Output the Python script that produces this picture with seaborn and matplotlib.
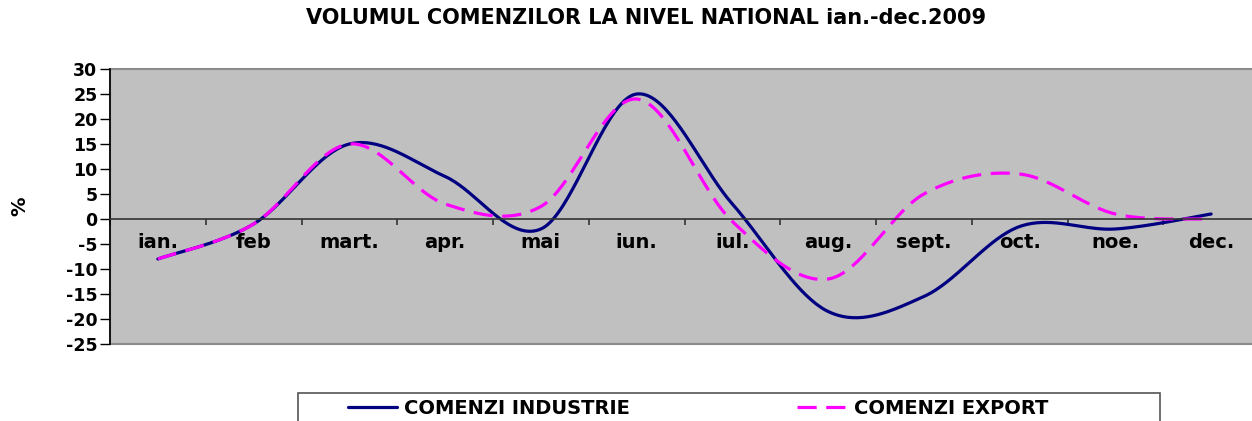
import numpy as np
import pandas as pd
import matplotlib
matplotlib.use("Agg")
import matplotlib.pyplot as plt
from matplotlib.patches import Rectangle
import seaborn as sns

# values (% change)
months = ["ian.", "feb", "mart.", "apr.", "mai", "iun.", "iul.", "aug.",
          "sept.", "oct.", "noe.", "dec."]
industrie = [-8, -1, 15, 8.5, -2, 25, 3, -18.5, -15.5, -1.5, -2, 1]
export = [-8, -1, 15, 3, 2.5, 24, -0.5, -12, 5, 9, 1, 0]
series_names = ["COMENZI INDUSTRIE", "COMENZI EXPORT"]
yticks = list(range(-25, 31, 5))


def excel_smooth(values, steps=40):
    """Bezier smoothing like Excel's 'smoothed line' (control points at 1/6)."""
    pts = np.column_stack([np.arange(len(values)), np.asarray(values, float)])
    padded = np.vstack([pts[0], pts, pts[-1]])
    t = np.linspace(0, 1, steps)[:, None]
    out = []
    for i in range(len(pts) - 1):
        p0, p3 = padded[i + 1], padded[i + 2]
        c1 = p0 + (padded[i + 2] - padded[i]) / 6
        c2 = p3 - (padded[i + 3] - padded[i + 1]) / 6
        seg = ((1 - t) ** 3) * p0 + 3 * ((1 - t) ** 2) * t * c1 \
            + 3 * (1 - t) * t ** 2 * c2 + t ** 3 * p3
        out.append(seg if i == 0 else seg[1:])
    return np.vstack(out)


frames = []
for name, vals in zip(series_names, [industrie, export]):
    curve = excel_smooth(vals)
    frames.append(pd.DataFrame({"x": curve[:, 0], "y": curve[:, 1], "series": name}))
df = pd.concat(frames, ignore_index=True)

sns.set_theme(style="white")
plt.rcParams["font.family"] = ["DejaVu Sans"]
plt.rcParams["font.weight"] = "bold"
for key in ["text.color", "axes.labelcolor", "xtick.color", "ytick.color"]:
    plt.rcParams[key] = "black"

W, H = 1252, 421
fig = plt.figure(figsize=(W / 100, H / 100), dpi=100)
ax = fig.add_axes([110 / W, 1 - 344 / H, 1149 / W, 275 / H])
ax.set_facecolor("#C0C0C0")

sns.lineplot(
    data=df, x="x", y="y", hue="series", style="series",
    palette={series_names[0]: "#000080", series_names[1]: "#FF00FF"},
    dashes={series_names[0]: "", series_names[1]: (6, 3)},
    linewidth=2.3, sort=False, estimator=None, ax=ax, legend=True,
)

ax.set_xlim(-0.5, len(months) - 0.5)
ax.set_ylim(-25, 30)
ax.set_yticks(yticks)
ax.set_yticklabels([str(v) for v in yticks], fontsize=12.5, fontweight="bold")

# category axis crosses at zero
for side in ["top", "right"]:
    ax.spines[side].set_visible(False)
ax.spines["bottom"].set_position(("data", 0))
ax.spines["bottom"].set_color("#333333")
ax.spines["bottom"].set_linewidth(1.2)
ax.spines["left"].set_color("black")
ax.spines["left"].set_linewidth(1.2)
ax.add_patch(Rectangle((0, 0), 1, 1, transform=ax.transAxes, fill=False,
                       edgecolor="#8C8C8C", linewidth=1.5, clip_on=False, zorder=0.5))

ax.set_xticks(np.arange(len(months) + 1) - 0.5)
ax.set_xticklabels([])
ax.set_xticks(np.arange(len(months)), minor=True)
ax.set_xticklabels(months, minor=True, fontsize=14, fontweight="bold")
ax.tick_params(axis="x", which="major", direction="out", length=4, width=1.2,
               color="#333333", bottom=True)
ax.tick_params(axis="x", which="minor", length=0, pad=10, bottom=True)
ax.tick_params(axis="y", direction="out", length=7, width=1, color="black",
               left=True, pad=2)

ax.set_xlabel("")
ax.set_ylabel("%", fontsize=14, fontweight="bold", labelpad=26)

fig.text(646 / W, 1 - 18 / H, "VOLUMUL COMENZILOR LA NIVEL NATIONAL ian.-dec.2009",
         ha="center", va="center", fontsize=15, fontweight="bold")

# legend box (runs off the bottom of the image, as in the reference)
fig.add_artist(Rectangle((298 / W, -0.1), 862 / W, 0.1 + 1 - 393 / H,
                         transform=fig.transFigure, fill=False,
                         edgecolor="#555555", linewidth=1.2))
handles, labels = ax.get_legend_handles_labels()
ax.legend_.remove()
fig.legend(
    handles, labels, ncol=2, loc="center left",
    bbox_to_anchor=(348 / W, 1 - 408 / H),
    frameon=False, prop={"size": 14, "weight": "bold"},
    handlelength=2.5, handletextpad=0.4, columnspacing=8.6,
    borderpad=0, borderaxespad=0,
)

fig.savefig("out.png", dpi=100)
